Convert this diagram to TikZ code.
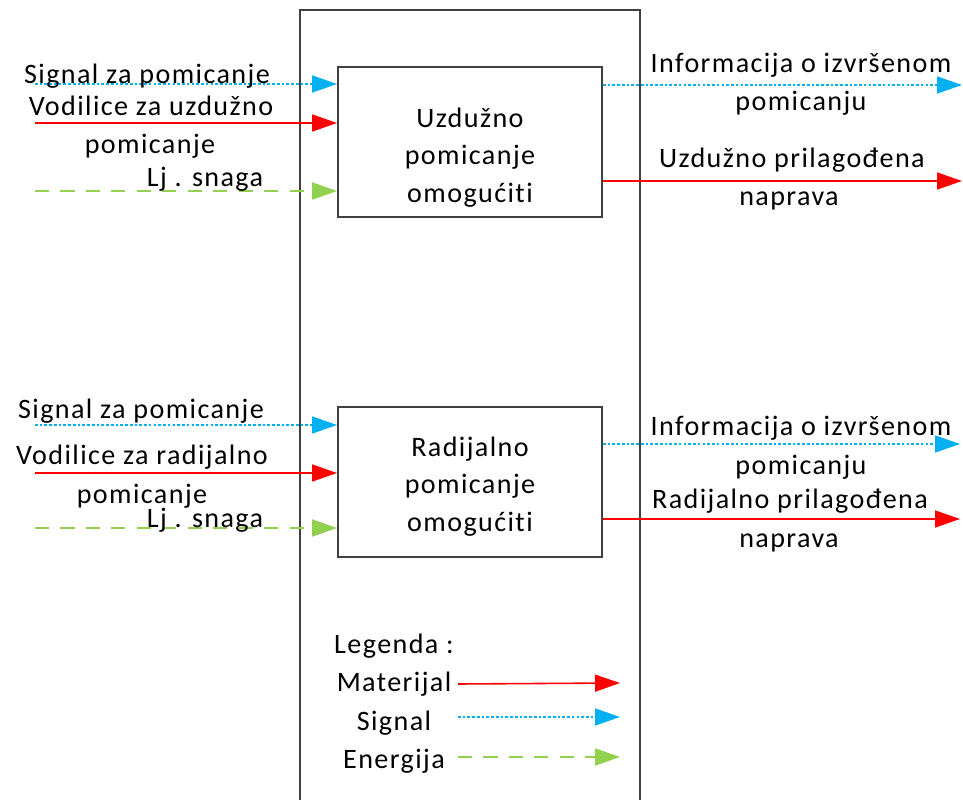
\documentclass[tikz,border=0pt]{standalone}
\usepackage{fontspec}
\setmainfont[LetterSpace=5,Ligatures=CommonOff]{Carlito}
\usetikzlibrary{arrows.meta}
\definecolor{signalplava}{HTML}{00B0F0}
\definecolor{energijazelena}{HTML}{92D050}
\definecolor{okvirsiva}{HTML}{404040}

\begin{document}
\begin{tikzpicture}[x=0.02cm,y=-0.02cm,
    font=\fontsize{16}{21.3}\selectfont,
    okvir/.style={draw=okvirsiva,line width=1.1pt},
    blok/.style={okvir,minimum width=5.28cm,minimum height=3cm,inner sep=0pt},
    opis/.style={anchor=base,inner sep=0pt},
    vrh/.style={-{Triangle[length=5mm,width=3.4mm]}},
    materijal/.style={vrh,draw=red,line width=0.9pt},
    signal/.style={vrh,draw=signalplava,line width=0.9pt,dash pattern=on 1.5pt off 1.2pt},
    energija/.style={vrh,draw=energijazelena,line width=1.1pt,dash pattern=on 8pt off 6.5pt}]
        \useasboundingbox (0,0) rectangle (963,800);
        \draw[okvir] (300,810) -- (300,10) -- (640,10) -- (640,810);
        % blokovi
        \node[blok] (uzd) at (470,142) {};
        \node[align=center] (uzdT) at (470,157.5) {Uzdužno\\pomicanje\\omogućiti};
        \node[blok] (rad) at (470,482) {};
        \node[align=center] (radT) at (470,486.5) {Radijalno\\pomicanje\\omogućiti};
        % ulazi uzduzno
        \coordinate (us) at (35,84);
        \coordinate (um) at (35,123);
        \coordinate (ue) at (35,191);
        \draw[signal] (us) -- (uzd.west |- us);
        \draw[materijal] (um) -- (uzd.west |- um);
        \draw[energija] (ue) -- (uzd.west |- ue);
        \node[opis] (usL) at (147,84) {Signal za pomicanje};
        \node[opis] (umL) at (151,116) {Vodilice za uzdužno};
        \node[opis] (umL2) at (150,154) {pomicanje};
        \node[opis] (ueL) at (205,187) {Lj . snaga};
        % izlazi uzduzno
        \coordinate (is) at (962,85);
        \coordinate (im) at (962,181);
        \draw[signal] (uzd.east |- is) -- (is);
        \draw[materijal] (uzd.east |- im) -- (im);
        \node[opis] (isL) at (801,73) {Informacija o izvršenom};
        \node[opis] (isL2) at (801,111) {pomicanju};
        \node[opis] (imL) at (792,168) {Uzdužno prilagođena};
        \node[opis] (imL2) at (789,206) {naprava};
        % ulazi radijalno
        \coordinate (rs) at (35,425);
        \coordinate (rm) at (35,473);
        \coordinate (re) at (35,528);
        \draw[signal] (rs) -- (rad.west |- rs);
        \draw[materijal] (rm) -- (rad.west |- rm);
        \draw[energija] (re) -- (rad.west |- re);
        \node[opis] (rsL) at (141,418) {Signal za pomicanje};
        \node[opis] (rmL) at (142,464) {Vodilice za radijalno};
        \node[opis] (rmL2) at (142,503) {pomicanje};
        \node[opis] (reL) at (205,527) {Lj . snaga};
        % izlazi radijalno
        \coordinate (js) at (960,444);
        \coordinate (jm) at (960,519);
        \draw[signal] (rad.east |- js) -- (js);
        \draw[materijal] (rad.east |- jm) -- (jm);
        \node[opis] (jsL) at (801,435) {Informacija o izvršenom};
        \node[opis] (jsL2) at (801,474) {pomicanju};
        \node[opis] (jmL) at (790,508) {Radijalno prilagođena};
        \node[opis] (jmL2) at (789,547) {naprava};
        % legenda
        \node[opis] (leg) at (394,653) {Legenda :};
        \node[opis] (legM) at (394,691) {Materijal};
        \node[opis] (legS) at (394,730) {Signal};
        \node[opis] (legE) at (394,768) {Energija};
        \coordinate (lm1) at (458,684);
        \coordinate (lm2) at (620,683);
        \coordinate (ls1) at (458,717);
        \coordinate (ls2) at (620,717);
        \coordinate (le1) at (458,757);
        \coordinate (le2) at (620,757);
        \draw[materijal] (lm1) -- (lm2);
        \draw[signal] (ls1) -- (ls2);
        \draw[energija] (le1) -- (le2);
\end{tikzpicture}
\end{document}
